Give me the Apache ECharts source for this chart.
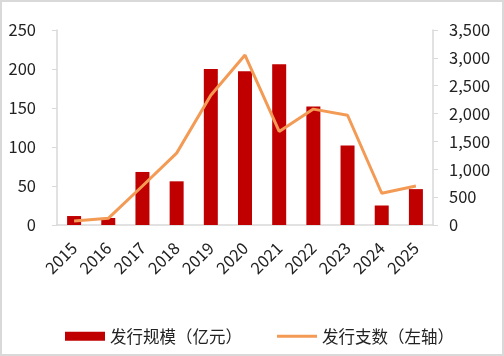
<!DOCTYPE html>
<html><head><meta charset="utf-8">
<script src="https://cdn.jsdelivr.net/npm/echarts@6/dist/echarts.min.js"></script>
<style>
html,body{margin:0;padding:0;background:#fff;}
#c{width:504px;height:356px;box-sizing:border-box;border:2px solid #d9d9d9;}
</style></head><body>
<div id="c"></div>
<script>
const categories = ['2015','2016','2017','2018','2019','2020','2021','2022','2023','2024','2025'];
const scaleValues = [11.5, 9, 68, 56, 200, 197, 206, 152, 102, 25, 46];
const countValues = [70, 120, 700, 1290, 2330, 3050, 1680, 2080, 1970, 570, 700];
const leftTicks = {min: 0, max: 250, interval: 50};
const rightTicks = {min: 0, max: 3500, interval: 500};
const seriesNames = ['发行规模（亿元）', '发行支数（左轴）'];

const font = '"Noto Sans CJK SC", "Noto Sans", sans-serif';
const barColor = '#C00000';
const lineColor = '#F39A55';
const chart = echarts.init(document.getElementById('c'), null, {renderer: 'canvas'});
const legendText = {fontSize: 16.5, color: '#222', fontFamily: font};
chart.setOption({
  animation: false,
  textStyle: {fontFamily: font},
  grid: {left: 55, right: 69, top: 28, bottom: 129, containLabel: false},
  legend: [
    {left: 58, top: 321, itemWidth: 40, itemHeight: 9, itemGap: 5, textStyle: legendText,
     data: [{name: seriesNames[0], icon: 'rect'}]},
    {left: 270, top: 321, itemWidth: 40, itemHeight: 3, itemGap: 5, textStyle: legendText,
     data: [{name: seriesNames[1], icon: 'rect', itemStyle: {color: lineColor}}]}
  ],
  xAxis: {
    type: 'category', data: categories,
    axisLine: {lineStyle: {color: '#d9d9d9', width: 1.5}},
    axisTick: {show: false},
    axisLabel: {rotate: 45, fontSize: 16.5, color: '#222', margin: 20, interval: 0}
  },
  yAxis: [
    {type: 'value', min: leftTicks.min, max: leftTicks.max, interval: leftTicks.interval,
     axisLine: {show: true, lineStyle: {color: '#d9d9d9', width: 1.5}},
     axisTick: {show: true, length: 5, lineStyle: {color: '#d9d9d9'}},
     splitLine: {show: false},
     axisLabel: {fontSize: 16.5, color: '#222', margin: 21}},
    {type: 'value', min: rightTicks.min, max: rightTicks.max, interval: rightTicks.interval,
     position: 'right',
     axisLine: {show: true, lineStyle: {color: '#d9d9d9', width: 1.5}},
     axisTick: {show: true, length: 5, lineStyle: {color: '#d9d9d9'}},
     splitLine: {show: false},
     axisLabel: {fontSize: 16.5, color: '#222', margin: 16,
       formatter: v => v.toLocaleString('en-US')}}
  ],
  series: [
    {name: seriesNames[0], type: 'bar', data: scaleValues, barWidth: 14,
     itemStyle: {color: barColor}, yAxisIndex: 0},
    {name: seriesNames[1], type: 'line', data: countValues, yAxisIndex: 1,
     symbol: 'none', lineStyle: {color: lineColor, width: 3}, itemStyle: {color: lineColor}}
  ]
});
</script>
</body></html>
